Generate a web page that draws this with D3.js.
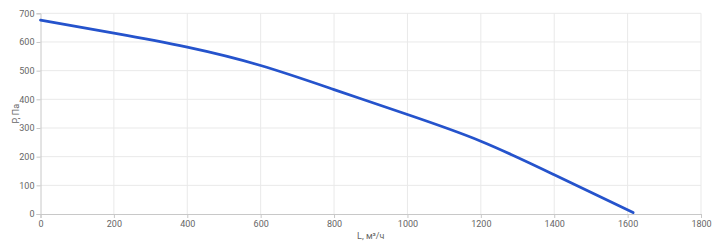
<!DOCTYPE html>
<html><head><meta charset="utf-8">
<script src="https://cdn.jsdelivr.net/npm/d3@7"></script>
<style>body{margin:0;background:#fff}svg{display:block}text{font-family:Roboto,"Liberation Sans",Arial,sans-serif}</style>
</head><body><svg id="c" width="720" height="248"></svg>
<script>
const flow = [0, 200, 400, 600, 800, 1000, 1200, 1400, 1615];
const pressure = [676, 631, 582, 518, 434, 347, 254, 137, 5];
const xTicks = [0, 200, 400, 600, 800, 1000, 1200, 1400, 1600, 1800];
const yTicks = [0, 100, 200, 300, 400, 500, 600, 700];
const xTitle = "L, м³/ч";
const yTitle = "P, Па";

const svg = d3.select("#c");
const m = {l: 40.5, r: 701, t: 13.3, b: 214};
const x = d3.scaleLinear().domain([0, 1800]).range([m.l, m.r]);
const y = d3.scaleLinear().domain([0, 700]).range([m.b, m.t]);

const g = svg.append("g");
g.selectAll(".vg").data(xTicks.slice(1)).join("line")
  .attr("x1", d => x(d)).attr("x2", d => x(d)).attr("y1", m.t).attr("y2", m.b)
  .attr("stroke", "#e9e9e9").attr("stroke-width", 1);
g.selectAll(".hg").data(yTicks.slice(1)).join("line")
  .attr("x1", m.l).attr("x2", m.r).attr("y1", d => y(d)).attr("y2", d => y(d))
  .attr("stroke", "#e9e9e9").attr("stroke-width", 1);

const xa = svg.append("g").attr("transform", `translate(0,${m.b})`)
  .call(d3.axisBottom(x).tickValues(xTicks).tickSize(4).tickPadding(3).tickFormat(d3.format("d")));
const ya = svg.append("g").attr("transform", `translate(${m.l},0)`)
  .call(d3.axisLeft(y).tickValues(yTicks).tickSize(4).tickPadding(2).tickFormat(d3.format("d")));
[xa, ya].forEach(a => {
  a.select(".domain").attr("stroke", "#c8c8c8");
  a.selectAll(".tick line").attr("stroke", "#c8c8c8");
  a.selectAll("text").attr("fill", "#666").style("font-size", "9px");
});

svg.append("text").attr("x", (m.l + m.r) / 2).attr("y", 239).attr("text-anchor", "middle")
  .attr("fill", "#666").style("font-size", "9px").text(xTitle);
svg.append("text").attr("transform", `translate(19,${(m.t + m.b) / 2}) rotate(-90)`)
  .attr("text-anchor", "middle").attr("fill", "#666").style("font-size", "9px").text(yTitle);

const pts = flow.map((d, i) => [d, pressure[i]]);
svg.append("path").datum(pts)
  .attr("d", d3.line().x(d => x(d[0])).y(d => y(d[1])).curve(d3.curveNatural))
  .attr("fill", "none").attr("stroke", "#2553cc").attr("stroke-width", 2.8).attr("stroke-linecap", "round");
</script></body></html>
